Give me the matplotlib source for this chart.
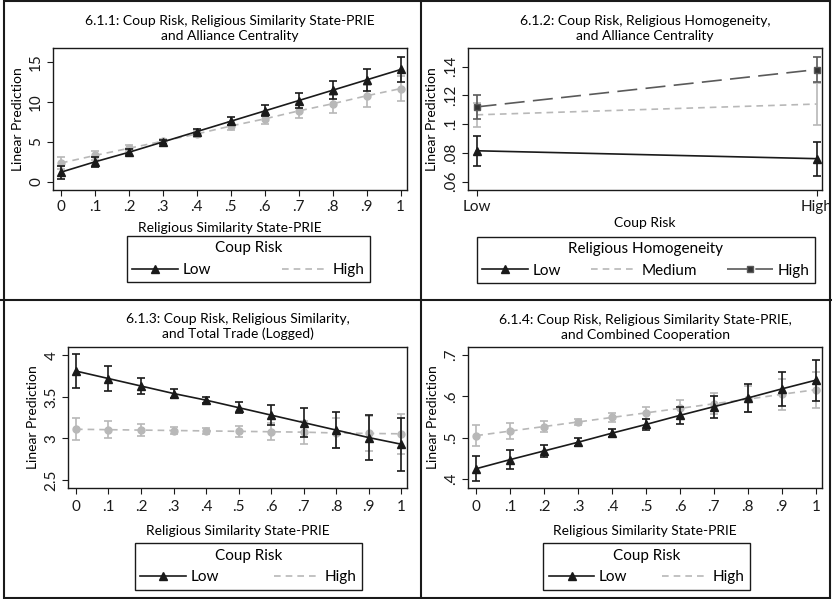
import matplotlib.pyplot as plt
from matplotlib.lines import Line2D

plt.rcParams['font.family'] = ['Lato', 'DejaVu Sans']
plt.rcParams['font.size'] = 10

# common x grid for panels 1, 3, 4
sim = [0, .1, .2, .3, .4, .5, .6, .7, .8, .9, 1]
sim_labels = ['0', '.1', '.2', '.3', '.4', '.5', '.6', '.7', '.8', '.9', '1']

# 6.1.1 alliance centrality
p1_low = [1.2, 2.5, 3.7, 5.0, 6.3, 7.6, 8.9, 10.2, 11.5, 12.8, 14.1]
p1_low_err = [0.8, 0.6, 0.35, 0.2, 0.3, 0.5, 0.7, 0.9, 1.15, 1.4, 1.6]
p1_high = [2.35, 3.3, 4.2, 5.1, 6.0, 7.0, 7.9, 8.9, 9.8, 10.8, 11.7]
p1_high_err = [0.8, 0.6, 0.4, 0.25, 0.35, 0.5, 0.7, 0.9, 1.15, 1.35, 1.55]

# 6.1.2 religious homogeneity
coup = ['Low', 'High']
p2_low = [0.0815, 0.076]
p2_low_err = [0.0105, 0.0118]
p2_med = [0.1065, 0.114]
p2_med_err = [0.0085, 0.0148]
p2_high = [0.112, 0.138]
p2_high_err = [0.0083, 0.0088]

# 6.1.3 total trade
p3_low = [3.81, 3.72, 3.63, 3.54, 3.46, 3.37, 3.28, 3.19, 3.10, 3.01, 2.93]
p3_low_err = [0.2, 0.15, 0.1, 0.06, 0.035, 0.07, 0.12, 0.17, 0.22, 0.27, 0.32]
p3_high = [3.11, 3.105, 3.10, 3.095, 3.09, 3.085, 3.08, 3.075, 3.065, 3.06, 3.055]
p3_high_err = [0.135, 0.1, 0.07, 0.04, 0.04, 0.07, 0.1, 0.14, 0.18, 0.21, 0.24]

# 6.1.4 combined cooperation
p4_low = [.425, .447, .468, .489, .511, .532, .554, .575, .596, .618, .639]
p4_low_err = [.03, .022, .015, .01, .01, .013, .02, .027, .034, .042, .05]
p4_high = [.505, .516, .527, .538, .549, .560, .571, .582, .593, .605, .616]
p4_high_err = [.025, .019, .013, .008, .01, .014, .02, .025, .032, .038, .044]

BLACK = '#1a1a1a'
GRAY = '#b8b8b8'
DGRAY = '#5a5a5a'

fig = plt.figure(figsize=(8.32, 5.99), dpi=100)
W, H = 832, 599


def make_ax(l, t, r, b):
    return fig.add_axes([l / W, 1 - b / H, (r - l) / W, (b - t) / H])


def style(ax, title, xlabel):
    ax.set_title(title, fontsize=10, pad=6, linespacing=1.25)
    ax.set_ylabel('Linear Prediction', labelpad=4)
    ax.set_xlabel(xlabel, labelpad=6)
    ax.tick_params(direction='out', length=4, width=0.8, colors=BLACK, pad=3,
                   labelsize=11)
    for lab in ax.get_yticklabels():
        lab.set_rotation(90)
        lab.set_va('center')
    for s in ax.spines.values():
        s.set_linewidth(1.0)
        s.set_color(BLACK)


def coup_panel(ax, low, low_err, high, high_err):
    ax.errorbar(sim, high, yerr=high_err, color=GRAY, ls='--', lw=1.2,
                marker='o', ms=5, capsize=3, elinewidth=1.2, capthick=1.2,
                dashes=(4, 3), zorder=2)
    ax.errorbar(sim, low, yerr=low_err, color=BLACK, ls='-', lw=1.2,
                marker='^', ms=6, capsize=3, elinewidth=1.2, capthick=1.2,
                zorder=3)
    ax.set_xticks(sim)
    ax.set_xticklabels(sim_labels)
    ax.set_xlim(-0.0235, 1.0185)


def box_legend(ax, handles, labels, title, l, r, top):
    # legend frame spans l..r (pixels), entries spread across it
    leg = ax.legend(handles, labels, title=title, ncol=len(labels),
                    loc='upper left', mode='expand',
                    bbox_to_anchor=(l / W, 1 - top / H, (r - l) / W, 0),
                    bbox_transform=fig.transFigure, fancybox=False,
                    edgecolor=BLACK, framealpha=1, handlelength=3.0,
                    columnspacing=1.3, handletextpad=0.3, borderpad=0.35,
                    borderaxespad=0, fontsize=11, title_fontsize=11)
    leg.get_frame().set_linewidth(1.0)
    return leg


def coup_legend(ax, l, r, top):
    hs = [Line2D([], [], color=BLACK, lw=1.2, marker='^', ms=6),
          Line2D([], [], color=GRAY, lw=1.2, ls='--', dashes=(4, 3))]
    return box_legend(ax, hs, ['Low', 'High'], 'Coup Risk', l, r, top)


# panel 1
ax1 = make_ax(53, 48, 407, 190)
coup_panel(ax1, p1_low, p1_low_err, p1_high, p1_high_err)
ax1.set_ylim(-1.04, 16.8)
ax1.set_yticks([0, 5, 10, 15])
style(ax1, '6.1.1: Coup Risk, Religious Similarity State-PRIE\nand Alliance Centrality',
      'Religious Similarity State-PRIE')
coup_legend(ax1, 127, 370, 236)

# panel 2
ax2 = make_ax(467.7, 48, 822, 190)
xi = [0, 1]
ax2.errorbar(xi, p2_med, yerr=p2_med_err, color=GRAY, ls='--', dashes=(4, 3),
             lw=1.2, capsize=3, elinewidth=1.2, capthick=1.2, zorder=2)
ax2.errorbar(xi, p2_high, yerr=p2_high_err, color=DGRAY, ls='--', dashes=(12, 5),
             lw=1.2, marker='s', ms=5, mfc='#333333', mec=DGRAY,
             capsize=3, elinewidth=1.2, capthick=1.2, zorder=3)
ax2.errorbar(xi, p2_low, yerr=p2_low_err, color=BLACK, ls='-', lw=1.2,
             marker='^', ms=6, capsize=3, elinewidth=1.2, capthick=1.2, zorder=4)
ax2.set_xticks(xi)
ax2.set_xticklabels(coup)
ax2.set_xlim(-0.026, 1.0156)
ax2.set_ylim(0.0542, 0.153)
ax2.set_yticks([.06, .08, .1, .12, .14])
ax2.set_yticklabels(['.06', '.08', '.1', '.12', '.14'])
style(ax2, '6.1.2: Coup Risk, Religious Homogeneity,\nand Alliance Centrality', 'Coup Risk')
ax2.xaxis.labelpad = 2
hs2 = [Line2D([], [], color=BLACK, lw=1.2, marker='^', ms=6),
       Line2D([], [], color=GRAY, lw=1.2, ls='--', dashes=(4, 3)),
       Line2D([], [], color=DGRAY, lw=1.2, ls='--', dashes=(12, 5), marker='s',
              ms=5, mfc='#333333', mec=DGRAY)]
box_legend(ax2, hs2, ['Low', 'Medium', 'High'], 'Religious Homogeneity',
           476.7, 815, 236.7)

# panel 3
ax3 = make_ax(68.3, 346.7, 407.3, 487.7)
coup_panel(ax3, p3_low, p3_low_err, p3_high, p3_high_err)
ax3.set_ylim(2.407, 4.103)
ax3.set_yticks([2.5, 3, 3.5, 4])
ax3.set_yticklabels(['2.5', '3', '3.5', '4'])
style(ax3, '6.1.3: Coup Risk, Religious Similarity,\nand Total Trade (Logged)',
      'Religious Similarity State-PRIE')
ax3.xaxis.labelpad = 8
ax3.tick_params(axis='x', pad=5)
coup_legend(ax3, 135, 362, 543.3)

# panel 4
ax4 = make_ax(468.3, 347.3, 822, 487.7)
coup_panel(ax4, p4_low, p4_low_err, p4_high, p4_high_err)
ax4.set_ylim(0.379, 0.7186)
ax4.set_yticks([.4, .5, .6, .7])
ax4.set_yticklabels(['.4', '.5', '.6', '.7'])
style(ax4, '6.1.4: Coup Risk, Religious Similarity State-PRIE,\nand Combined Cooperation',
      'Religious Similarity State-PRIE')
ax4.xaxis.labelpad = 8
ax4.tick_params(axis='x', pad=5)
coup_legend(ax4, 543.3, 750, 543.3)

# panel frames
fig.add_artist(Line2D([420.7 / W, 420.7 / W], [0, 1], color=BLACK, lw=1.5))
fig.add_artist(Line2D([0, 1], [1 - 299.5 / H, 1 - 299.5 / H], color=BLACK, lw=1.5))
fig.add_artist(plt.Rectangle((4 / W, 1 / H), 826 / W, 597 / H, fill=False,
                             edgecolor=BLACK, lw=1.5))

fig.savefig('out.png', dpi=100)
